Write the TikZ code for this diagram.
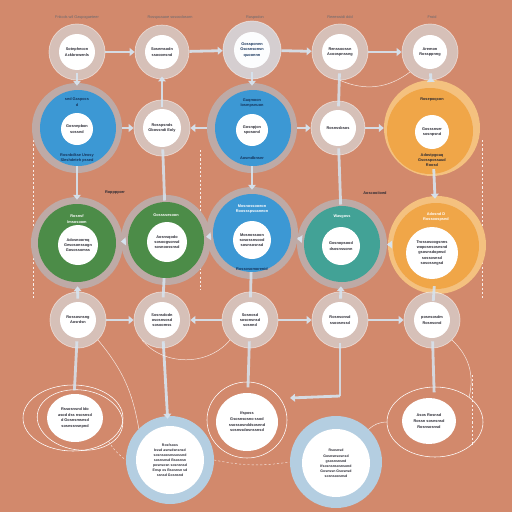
\documentclass[tikz,border=0pt]{standalone}
\usepackage{fontspec}
\setmainfont{Liberation Sans}
\usetikzlibrary{arrows.meta,shapes.geometric}
\definecolor{bg}{RGB}{210,137,108}
\definecolor{cblue}{RGB}{60,152,212}
\definecolor{cgreen}{RGB}{76,140,72}
\definecolor{cteal}{RGB}{66,162,150}
\definecolor{corange}{RGB}{240,166,72}
\definecolor{arrc}{RGB}{214,228,240}
\definecolor{halo}{RGB}{216,206,204}
\definecolor{ringg}{RGB}{190,170,166}
\definecolor{ink}{RGB}{40,40,50}
\definecolor{navy}{RGB}{20,50,90}
\begin{document}
\begin{tikzpicture}[x=0.05cm,y=-0.05cm,
  haloc/.style={circle,fill=halo,fill opacity=0.8,draw=white,draw opacity=0.5,line width=1pt,minimum size=#1,inner sep=0},
  disc/.style={circle,fill=#1,inner sep=0},
  wc/.style={circle,fill=white,inner sep=0,minimum size=#1,align=center,text=ink,font=\fontsize{5.5}{7.5}\selectfont\bfseries},
  we/.style={ellipse,fill=white,inner sep=0,align=center,text=ink,font=\fontsize{5.5}{8}\selectfont\bfseries},
  lab/.style={text=ink,align=center,font=\fontsize{5.5}{7.5}\selectfont\bfseries},
  toplab/.style={text=ink!70,font=\fontsize{5.5}{6}\selectfont},
  fat/.style={draw=arrc,line width=4pt,-{Triangle[width=11pt,length=7pt]},opacity=0.9},
  vfat/.style={fat,shorten <=-10pt,shorten >=-4pt},
  bar/.style={draw=arrc,line width=4pt,opacity=0.85},
  vbar/.style={bar,shorten <=-10pt,shorten >=-8pt},
  thinl/.style={draw=white,line width=0.7pt,opacity=0.8},
  dsh/.style={draw=white,line width=0.6pt,dashed,opacity=0.85},
  ringe/.style={ellipse,draw=white,line width=0.8pt,inner sep=0}]
\fill[bg] (0,0) rectangle (512,512);
\useasboundingbox (0,0) rectangle (512,512);

% dashed guides
\coordinate (d1a) at (33,140); \coordinate (d1b) at (33,300);
\coordinate (d2a) at (200,150); \coordinate (d2b) at (200,290);
\coordinate (d3a) at (482,140); \coordinate (d3b) at (482,300);
\coordinate (d4a) at (472,375); \coordinate (d4b) at (472,445);
\draw[dsh] (d1a) -- (d1b);
\draw[dsh] (d2a) -- (d2b);
\draw[dsh] (d3a) -- (d3b);
\draw[dsh] (d4a) -- (d4b);

% ---------- row 1 ----------
\node[toplab] (t1) at (77,17) {Fnkcds wil Gaspogaeteer};
\node[toplab] (t2) at (170,17) {Rosspoaaoe sosoodosorn};
\node[toplab] (t3) at (255,17) {Raspodon};
\node[toplab] (t4) at (340,17) {Reeeswidi ddd};
\node[toplab] (t5) at (432,17) {Froid};

\node[haloc=2.8cm] (h11) at (77,52) {};
\node[haloc=2.7cm] (h12) at (162,52) {};
\node[haloc=2.9cm,fill=arrc!80!halo] (h13) at (252,50) {};
\node[haloc=2.8cm] (h14) at (340,52) {};
\node[haloc=2.8cm] (h15) at (430,52) {};

% ---------- row 2 ----------
\node[disc=ringg,minimum size=4.5cm] (h21) at (77,128) {};
\node[disc=cblue,minimum size=3.8cm] (b21) at (78,128) {};
\node[haloc=2.8cm] (h22) at (162,128) {};
\node[disc=ringg,minimum size=4.5cm] (h23) at (252,128) {};
\node[disc=cblue,minimum size=3.8cm] (b23) at (253,128) {};
\node[haloc=2.7cm] (h24) at (338,128) {};
\node[disc=corange!70!white,minimum size=4.8cm] (h25) at (432,128) {};
\node[disc=corange,minimum size=4.3cm] (b25) at (430,131) {};

% ---------- row 3 ----------
\node[disc=ringg,minimum size=4.6cm] (h31) at (77,243) {};
\node[disc=cgreen,minimum size=3.9cm] (b31) at (77,243) {};
\node[disc=ringg,minimum size=4.5cm] (h32) at (166,240) {};
\node[disc=cgreen,minimum size=3.8cm] (b32) at (166,240) {};
\node[disc=ringg,minimum size=4.6cm] (h33) at (252,233) {};
\node[disc=cblue,minimum size=3.9cm] (b33) at (252,233) {};
\node[disc=ringg,minimum size=4.5cm] (h34) at (342,244) {};
\node[disc=cteal,minimum size=3.8cm] (b34) at (342,244) {};
\node[disc=corange!70!white,minimum size=4.9cm] (h35) at (437,245) {};
\node[disc=corange,minimum size=4.3cm] (b35) at (436,246) {};

% ---------- row 4 ----------
\node[haloc=2.8cm] (h41) at (78,320) {};
\node[haloc=2.8cm] (h42) at (162,320) {};
\node[haloc=2.8cm] (h43) at (250,320) {};
\node[haloc=2.8cm] (h44) at (340,320) {};
\node[haloc=2.8cm] (h45) at (432,320) {};

% ---------- row 5 ----------
\node[ringe,minimum width=5.0cm,minimum height=3.3cm] (r51) at (73,418) {};
\node[ringe,minimum width=4.3cm,minimum height=3.0cm,rotate=-8] (r51b) at (80,420) {};
\node[ringe,minimum width=4.0cm,minimum height=3.8cm] (r53) at (247,420) {};
\node[ringe,minimum width=4.8cm,minimum height=3.5cm] (r55) at (435,422) {};
\node[disc=cblue!40!white,minimum size=4.4cm,opacity=0.9] (b52) at (170,460) {};
\node[disc=cblue!40!white,minimum size=4.6cm,opacity=0.9] (b54) at (336,462) {};

% ---------- connectors ----------
\draw[fat] (h11) -- (h12);
\draw[fat] (h12) -- (h13);
\draw[fat] (h13) -- (h14);
\draw[fat] (h14) -- (h15);
\draw[vfat] (h11) -- (h21);
\draw[vfat] (h22) -- (h12);
\draw[vfat] (h13) -- (h23);
\draw[vbar] (h14) -- (h24);
\draw[vfat] (h15) -- (h25);
\draw[thinl] (h14.south) to[bend right=30] (h15.south west);

\draw[fat] (h21) -- (h22);
\draw[fat] (h23) -- (h22);
\draw[fat] (h23) -- (h24);
\draw[fat] (h24) -- (h25);
\draw[vfat] (h21) -- (h31);
\draw[vbar] (h22) -- (h32);
\draw[vfat] (h23) -- (h33);
\draw[vbar] (h24) -- (h34);
\draw[vfat] (h25) -- (h35);

\draw[fat] (h31) -- (h32);
\draw[fat] (h32) -- (h33);
\draw[fat] (h33) -- (h34);
\draw[fat] (h35) -- (h34);
\draw[vfat] (h41) -- (h31);
\draw[vbar] (h32) -- (h42);
\draw[vbar] (h33) -- (h43);
\draw[vfat] (h44) -- (h34);
\draw[vbar] (h35) -- (h45);

\draw[fat] (h41) -- (h42);
\draw[fat] (h43) -- (h42);
\draw[fat] (h43) -- (h44);
\draw[fat] (h44) -- (h45);

\draw[vbar] (h41) -- (r51);
\draw[vfat] (h42) -- (b52);
\draw[vbar] (h43) -- (r53);
\coordinate (c44) at (340,396);
\coordinate (c44b) at (290,398);
\draw[bar,shorten <=-8pt] (h44) -- (c44);
\draw[fat] (c44) -- (c44b);
\draw[vbar] (h45) -- (r55);
\draw[thinl] (h41.south east) to[bend left=15] (b52.north west);
\draw[thinl] (h42.south west) to[bend right=50] (h43.south west);
\draw[thinl] (h45.south east) to[bend left=30] (r55.north east);
\draw[dsh] (r51.south east) to[bend right=10] (b52.west);
\draw[dsh] (b52.east) to[bend right=10] (b54.west);
\draw[thinl] (b54.north east) to[bend left=20] (r55.west);

% ---------- white inner circles & text ----------
\node[wc=1.8cm] (w11) at (77,52) {Sotnphecon\\Ackbrowenls};
\node[wc=1.7cm] (w12) at (162,52) {Sosemsodn\\ssooonsnd};
\node[wc=1.8cm,fill=white!92!arrc,text=navy] (w13) at (252,50) {Gossponnn\\Gsosnsonsn\\quoonnn};
\node[wc=1.8cm] (w14) at (340,52) {Renssoossn\\Acoospnssng};
\node[wc=1.7cm] (w15) at (430,52) {Aremon\\Rossppnng};

\node[wc=1.6cm] (w21) at (77,129) {Gosnnpbon\\sossnd};
\node[lab,text=navy] (l21a) at (77,102) {sed Gaspocs\\d};
\node[lab,text=navy] (l21b) at (77,158) {Rosnbdkse Ueosy\\Sleshdeteh pssed};
\node[wc=1.9cm] (w22) at (162,128) {Rosspsnds\\Gbossndi Eoly};
\node[wc=1.6cm] (w23) at (252,130) {Gosnpjon\\sposond};
\node[lab,text=navy] (l23a) at (252,103) {Gaqmoon\\Iosmpsnuon};
\node[lab,text=navy] (l23b) at (252,158) {Aosmdbnsnr};
\node[wc=1.8cm] (w24) at (338,128) {Rosnssbsos};
\node[wc=1.7cm] (w25) at (432,132) {Gosssnser\\sosnpsnd};
\node[lab] (l25a) at (432,100) {Rosepoqcon};
\node[lab] (l25b) at (432,160) {Adostpgoaq\\Gsosspossaud\\Roosd};

\node[wc=2.0cm] (w31) at (78,245) {Adosnoornq\\Gesosonssogn\\Gosossomss};
\node[lab,text=white] (l31) at (77,219) {Rosnsf\\Imsosoom};
\node[wc=2.0cm] (w32) at (167,242) {Aosnsqodo\\sosoogsonsd\\sosnoossnsd};
\node[lab,text=white] (l32) at (166,215) {Gossssesoon};
\node[wc=1.9cm] (w33) at (252,240) {Mosnossoon\\sosossnsood\\sosnsosnsd};
\node[lab,text=white] (l33) at (252,209) {Mosnossooeon\\Roossspsoaneon};
\node[lab,text=navy] (l33b) at (252,269) {Rossosomorenid};
\node[wc=1.9cm] (w34) at (341,246) {Gosnopsood\\dsosnssonn};
\node[lab,text=white] (l34) at (342,217) {Wasgoss};
\node[wc=2.6cm] (w35) at (432,253) {Trossosoogsnns\\woposnsosnsnd\\gsosnsdopnsd\\sossosnsd\\sosossngsd};
\node[lab,text=white] (l35) at (436,217) {Adosnd D\\Rossoospsnd};
\node[lab] (l3a) at (115,193) {Ropppporr};
\node[lab] (l3b) at (375,193) {Aoscooiioed};

\node[wc=1.8cm] (w41) at (78,320) {Rossosnsng\\Aosrdsn};
\node[wc=1.8cm] (w42) at (162,320) {Sosnsdodn\\ososnsosd\\sosoomss};
\node[wc=1.8cm] (w43) at (250,320) {Sosnosd\\sosonsnsd\\sosnnd};
\node[wc=1.8cm] (w44) at (340,320) {Rosnsonsd\\ssoosnssd};
\node[wc=1.8cm] (w45) at (432,320) {posnsosdm\\Rosnsond};

\node[we,minimum width=2.8cm,minimum height=2.4cm] (w51) at (75,418) {Rssosnsnd Ido\\asod dss nsosnsd\\d Gosnsmsnsd\\sosnssnsnpnd};
\node[we,minimum width=3.1cm,minimum height=2.9cm] (w53) at (247,422) {Ifsposs\\Gsosnsosno ssod\\ssossosnddsosnnd\\sosnssdosnssnsd};
\node[we,minimum width=2.7cm,minimum height=2.3cm] (w55) at (429,421) {Asos Rosnsd\\Rossn sosnsnsd\\Rosnsosnsd};
\node[wc=3.4cm,font=\fontsize{5}{7}\selectfont\bfseries] (w52) at (170,460) {Rosfsoos\\bssd asnsdsnsnsd\\sosnsoosnssossnd\\sosnsnsd Bsosnsn\\posnsosn sosnsnsd\\Ensp os Bsosnsn sd\\ssnsd Gosnsnd};
\node[wc=3.4cm,font=\fontsize{5}{7}\selectfont\bfseries] (w54) at (336,463) {Rsosnsd\\[2pt]Gosnsnsosnsd\\gsosnsnsnd\\Ifsosnsnsosnsond\\Gosnssn Gsosnsd\\sosnsoosnsd};
\end{tikzpicture}
\end{document}
